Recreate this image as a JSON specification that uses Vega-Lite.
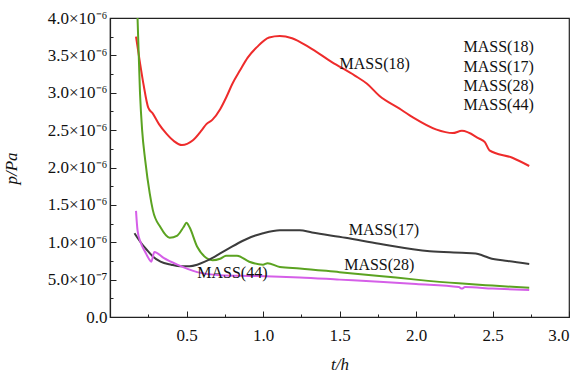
{
  "$schema": "https://vega.github.io/schema/vega-lite/v6.json",
  "autosize": "none",
  "width": 459,
  "height": 299,
  "padding": {"left": 110, "top": 18, "right": 15, "bottom": 56},
  "background": "white",
  "config": {
    "font": "Liberation Serif",
    "view": {"stroke": "#222", "strokeWidth": 1.2},
    "axis": {
      "domainColor": "#222", "domainWidth": 1.2, "tickColor": "#222", "tickWidth": 1,
      "labelFont": "Liberation Serif", "titleFont": "Liberation Serif",
      "labelFontSize": 17, "titleFontSize": 17, "labelColor": "#111", "titleColor": "#111",
      "titleFontWeight": "normal", "grid": false
    }
  },
  "datasets": {
    "curves": [
      {"series": "MASS(18)", "t": 0.17, "p": 3.75e-6},
      {"series": "MASS(18)", "t": 0.196, "p": 3.40e-6},
      {"series": "MASS(18)", "t": 0.22, "p": 3.10e-6},
      {"series": "MASS(18)", "t": 0.25, "p": 2.80e-6},
      {"series": "MASS(18)", "t": 0.28, "p": 2.72e-6},
      {"series": "MASS(18)", "t": 0.32, "p": 2.58e-6},
      {"series": "MASS(18)", "t": 0.37, "p": 2.45e-6},
      {"series": "MASS(18)", "t": 0.42, "p": 2.35e-6},
      {"series": "MASS(18)", "t": 0.47, "p": 2.30e-6},
      {"series": "MASS(18)", "t": 0.54, "p": 2.36e-6},
      {"series": "MASS(18)", "t": 0.60, "p": 2.50e-6},
      {"series": "MASS(18)", "t": 0.63, "p": 2.58e-6},
      {"series": "MASS(18)", "t": 0.67, "p": 2.64e-6},
      {"series": "MASS(18)", "t": 0.72, "p": 2.78e-6},
      {"series": "MASS(18)", "t": 0.76, "p": 2.94e-6},
      {"series": "MASS(18)", "t": 0.80, "p": 3.12e-6},
      {"series": "MASS(18)", "t": 0.85, "p": 3.30e-6},
      {"series": "MASS(18)", "t": 0.90, "p": 3.47e-6},
      {"series": "MASS(18)", "t": 0.96, "p": 3.61e-6},
      {"series": "MASS(18)", "t": 1.04, "p": 3.74e-6},
      {"series": "MASS(18)", "t": 1.11, "p": 3.76e-6},
      {"series": "MASS(18)", "t": 1.19, "p": 3.73e-6},
      {"series": "MASS(18)", "t": 1.30, "p": 3.61e-6},
      {"series": "MASS(18)", "t": 1.45, "p": 3.41e-6},
      {"series": "MASS(18)", "t": 1.60, "p": 3.23e-6},
      {"series": "MASS(18)", "t": 1.68, "p": 3.12e-6},
      {"series": "MASS(18)", "t": 1.76, "p": 2.96e-6},
      {"series": "MASS(18)", "t": 1.89, "p": 2.79e-6},
      {"series": "MASS(18)", "t": 1.98, "p": 2.67e-6},
      {"series": "MASS(18)", "t": 2.13, "p": 2.51e-6},
      {"series": "MASS(18)", "t": 2.24, "p": 2.46e-6},
      {"series": "MASS(18)", "t": 2.30, "p": 2.49e-6},
      {"series": "MASS(18)", "t": 2.41, "p": 2.39e-6},
      {"series": "MASS(18)", "t": 2.45, "p": 2.34e-6},
      {"series": "MASS(18)", "t": 2.48, "p": 2.23e-6},
      {"series": "MASS(18)", "t": 2.63, "p": 2.13e-6},
      {"series": "MASS(18)", "t": 2.74, "p": 2.02e-6},

      {"series": "MASS(28)", "t": 0.17, "p": 4.5e-6},
      {"series": "MASS(28)", "t": 0.18, "p": 4.0e-6},
      {"series": "MASS(28)", "t": 0.196, "p": 3.0e-6},
      {"series": "MASS(28)", "t": 0.21, "p": 2.5e-6},
      {"series": "MASS(28)", "t": 0.23, "p": 2.10e-6},
      {"series": "MASS(28)", "t": 0.26, "p": 1.65e-6},
      {"series": "MASS(28)", "t": 0.28, "p": 1.43e-6},
      {"series": "MASS(28)", "t": 0.33, "p": 1.20e-6},
      {"series": "MASS(28)", "t": 0.39, "p": 1.06e-6},
      {"series": "MASS(28)", "t": 0.44, "p": 1.09e-6},
      {"series": "MASS(28)", "t": 0.48, "p": 1.20e-6},
      {"series": "MASS(28)", "t": 0.50, "p": 1.26e-6},
      {"series": "MASS(28)", "t": 0.52, "p": 1.20e-6},
      {"series": "MASS(28)", "t": 0.57, "p": 0.94e-6},
      {"series": "MASS(28)", "t": 0.63, "p": 0.79e-6},
      {"series": "MASS(28)", "t": 0.67, "p": 0.76e-6},
      {"series": "MASS(28)", "t": 0.72, "p": 0.78e-6},
      {"series": "MASS(28)", "t": 0.76, "p": 0.82e-6},
      {"series": "MASS(28)", "t": 0.83, "p": 0.82e-6},
      {"series": "MASS(28)", "t": 0.91, "p": 0.74e-6},
      {"series": "MASS(28)", "t": 1.00, "p": 0.70e-6},
      {"series": "MASS(28)", "t": 1.03, "p": 0.72e-6},
      {"series": "MASS(28)", "t": 1.11, "p": 0.67e-6},
      {"series": "MASS(28)", "t": 1.24, "p": 0.65e-6},
      {"series": "MASS(28)", "t": 1.50, "p": 0.60e-6},
      {"series": "MASS(28)", "t": 1.76, "p": 0.55e-6},
      {"series": "MASS(28)", "t": 2.00, "p": 0.50e-6},
      {"series": "MASS(28)", "t": 2.28, "p": 0.45e-6},
      {"series": "MASS(28)", "t": 2.50, "p": 0.42e-6},
      {"series": "MASS(28)", "t": 2.74, "p": 0.39e-6},

      {"series": "MASS(17)", "t": 0.16, "p": 1.12e-6},
      {"series": "MASS(17)", "t": 0.20, "p": 1.00e-6},
      {"series": "MASS(17)", "t": 0.24, "p": 0.90e-6},
      {"series": "MASS(17)", "t": 0.28, "p": 0.81e-6},
      {"series": "MASS(17)", "t": 0.33, "p": 0.74e-6},
      {"series": "MASS(17)", "t": 0.40, "p": 0.70e-6},
      {"series": "MASS(17)", "t": 0.46, "p": 0.68e-6},
      {"series": "MASS(17)", "t": 0.52, "p": 0.68e-6},
      {"series": "MASS(17)", "t": 0.57, "p": 0.70e-6},
      {"series": "MASS(17)", "t": 0.62, "p": 0.74e-6},
      {"series": "MASS(17)", "t": 0.67, "p": 0.79e-6},
      {"series": "MASS(17)", "t": 0.72, "p": 0.85e-6},
      {"series": "MASS(17)", "t": 0.78, "p": 0.92e-6},
      {"series": "MASS(17)", "t": 0.84, "p": 0.99e-6},
      {"series": "MASS(17)", "t": 0.89, "p": 1.04e-6},
      {"series": "MASS(17)", "t": 0.95, "p": 1.09e-6},
      {"series": "MASS(17)", "t": 1.00, "p": 1.12e-6},
      {"series": "MASS(17)", "t": 1.11, "p": 1.16e-6},
      {"series": "MASS(17)", "t": 1.24, "p": 1.16e-6},
      {"series": "MASS(17)", "t": 1.32, "p": 1.13e-6},
      {"series": "MASS(17)", "t": 1.54, "p": 1.06e-6},
      {"series": "MASS(17)", "t": 1.76, "p": 0.98e-6},
      {"series": "MASS(17)", "t": 2.09, "p": 0.88e-6},
      {"series": "MASS(17)", "t": 2.30, "p": 0.86e-6},
      {"series": "MASS(17)", "t": 2.39, "p": 0.85e-6},
      {"series": "MASS(17)", "t": 2.44, "p": 0.82e-6},
      {"series": "MASS(17)", "t": 2.48, "p": 0.79e-6},
      {"series": "MASS(17)", "t": 2.60, "p": 0.75e-6},
      {"series": "MASS(17)", "t": 2.74, "p": 0.71e-6},

      {"series": "MASS(44)", "t": 0.17, "p": 1.42e-6},
      {"series": "MASS(44)", "t": 0.18, "p": 1.16e-6},
      {"series": "MASS(44)", "t": 0.20, "p": 1.00e-6},
      {"series": "MASS(44)", "t": 0.23, "p": 0.87e-6},
      {"series": "MASS(44)", "t": 0.26, "p": 0.76e-6},
      {"series": "MASS(44)", "t": 0.27, "p": 0.74e-6},
      {"series": "MASS(44)", "t": 0.29, "p": 0.87e-6},
      {"series": "MASS(44)", "t": 0.35, "p": 0.79e-6},
      {"series": "MASS(44)", "t": 0.44, "p": 0.70e-6},
      {"series": "MASS(44)", "t": 0.57, "p": 0.60e-6},
      {"series": "MASS(44)", "t": 0.72, "p": 0.56e-6},
      {"series": "MASS(44)", "t": 0.93, "p": 0.55e-6},
      {"series": "MASS(44)", "t": 1.11, "p": 0.54e-6},
      {"series": "MASS(44)", "t": 1.24, "p": 0.53e-6},
      {"series": "MASS(44)", "t": 1.50, "p": 0.50e-6},
      {"series": "MASS(44)", "t": 1.76, "p": 0.47e-6},
      {"series": "MASS(44)", "t": 2.00, "p": 0.44e-6},
      {"series": "MASS(44)", "t": 2.28, "p": 0.40e-6},
      {"series": "MASS(44)", "t": 2.30, "p": 0.38e-6},
      {"series": "MASS(44)", "t": 2.32, "p": 0.40e-6},
      {"series": "MASS(44)", "t": 2.50, "p": 0.38e-6},
      {"series": "MASS(44)", "t": 2.74, "p": 0.36e-6}
    ],
    "labels": [
      {"label": "MASS(18)", "t": 1.73, "p": 3.39e-6},
      {"label": "MASS(17)", "t": 1.79, "p": 1.16e-6},
      {"label": "MASS(28)", "t": 1.76, "p": 0.70e-6},
      {"label": "MASS(44)", "t": 0.80, "p": 0.59e-6},
      {"label": "MASS(18)", "t": 2.54, "p": 3.61e-6},
      {"label": "MASS(17)", "t": 2.54, "p": 3.35e-6},
      {"label": "MASS(28)", "t": 2.54, "p": 3.09e-6},
      {"label": "MASS(44)", "t": 2.54, "p": 2.84e-6}
    ]
  },
  "encoding": {
    "x": {
      "field": "t", "type": "quantitative",
      "scale": {"domain": [0, 3], "nice": false},
      "axis": {
        "title": "t/h", "titleFontStyle": "italic",
        "values": [0.25, 0.5, 0.75, 1, 1.25, 1.5, 1.75, 2, 2.25, 2.5, 2.75, 3],
        "labelExpr": "(datum.value * 2) % 1 === 0 ? format(datum.value, '.1f') : ''",
        "tickSize": {"condition": {"test": "(datum.value * 2) % 1 === 0", "value": -6}, "value": -3},
        "labelOverlap": false, "labelPadding": 16, "titlePadding": 10
      }
    },
    "y": {
      "field": "p", "type": "quantitative",
      "scale": {"domain": [0, 4e-6], "nice": false},
      "axis": {
        "title": "p/Pa", "titleFontStyle": "italic",
        "values": [0, 2.5e-7, 5e-7, 7.5e-7, 1e-6, 1.25e-6, 1.5e-6, 1.75e-6, 2e-6, 2.25e-6, 2.5e-6, 2.75e-6, 3e-6, 3.25e-6, 3.5e-6, 3.75e-6, 4e-6],
        "labelExpr": "datum.value === 0 ? '0.0' : (round(datum.value * 4e6) % 2 === 1 ? '' : (datum.value < 0.9e-6 ? format(datum.value * 1e7, '.1f') + '×10⁻⁷' : format(datum.value * 1e6, '.1f') + '×10⁻⁶'))",
        "tickSize": {"condition": {"test": "round(datum.value * 4e6) % 2 === 0", "value": -6}, "value": -3},
        "labelOverlap": false, "labelPadding": 9, "titleX": -90, "titleY": 150
      }
    }
  },
  "layer": [
    {
      "data": {"name": "curves"},
      "mark": {"type": "line", "clip": true, "strokeWidth": 2, "interpolate": "monotone"},
      "encoding": {
        "color": {
          "field": "series", "type": "nominal",
          "scale": {"domain": ["MASS(18)", "MASS(17)", "MASS(28)", "MASS(44)"], "range": ["#ee2b2b", "#3c3c3c", "#5ba321", "#d55fe8"]},
          "legend": null
        },
        "detail": {"field": "series"}
      }
    },
    {
      "data": {"name": "labels"},
      "mark": {"type": "text", "font": "Liberation Serif", "fontSize": 16, "color": "#111", "align": "center", "baseline": "middle"},
      "encoding": {
        "text": {"field": "label"}
      }
    }
  ]
}
